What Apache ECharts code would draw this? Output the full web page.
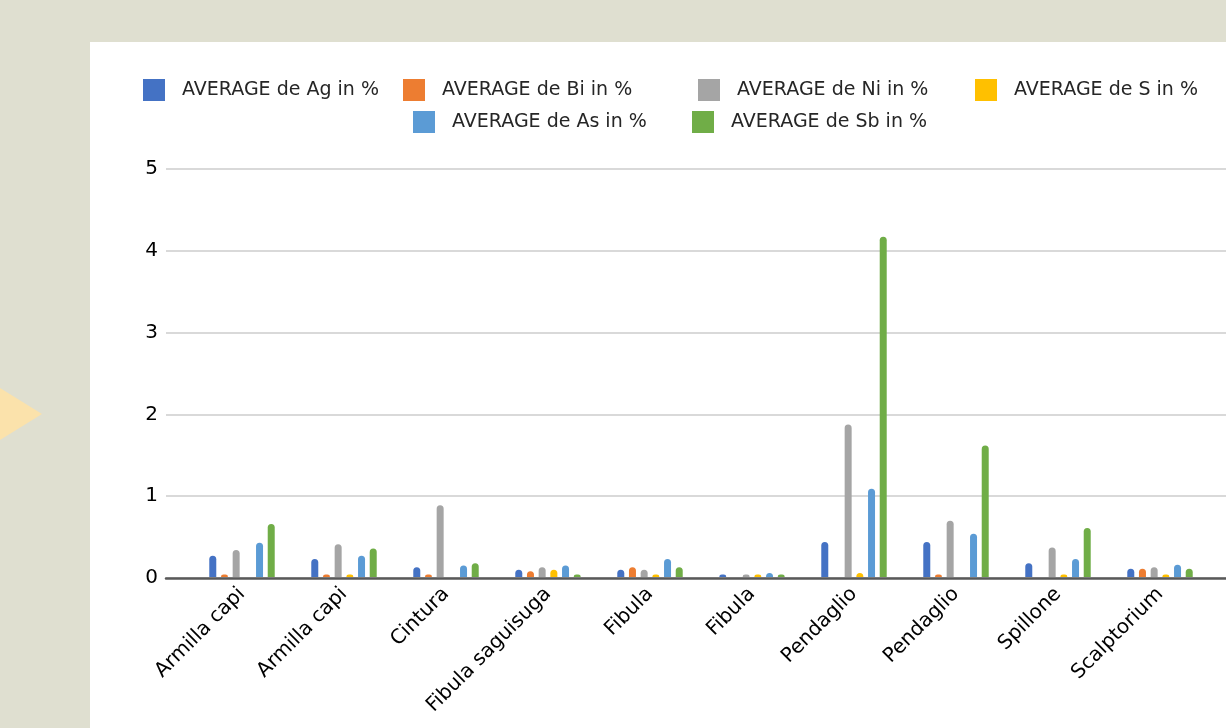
<!DOCTYPE html>
<html>
<head>
<meta charset="utf-8">
<script src="https://cdn.jsdelivr.net/npm/echarts@6/dist/echarts.min.js"></script>
<style>
html,body{margin:0;padding:0;width:1226px;height:728px;overflow:hidden;background:#dfdfd0;}
#panel{position:absolute;left:90px;top:42px;width:1136px;height:686px;background:#ffffff;}
#tri{position:absolute;left:0;top:388px;width:0;height:0;border-top:26px solid transparent;border-bottom:26px solid transparent;border-left:42px solid #fbe2ab;}
#chart{position:absolute;left:0;top:0;width:1226px;height:728px;}
</style>
</head>
<body>
<div id="panel"></div>
<div id="tri"></div>
<div id="chart"></div>
<script>
const categories = ['Armilla capi','Armilla capi','Cintura','Fibula saguisuga','Fibula','Fibula','Pendaglio','Pendaglio','Spillone','Scalptorium'];
const seriesNames = ['AVERAGE de Ag in %','AVERAGE de Bi in %','AVERAGE de Ni in %','AVERAGE de S in %','AVERAGE de As in %','AVERAGE de Sb in %'];
const ag = [0.26,0.22,0.12,0.09,0.09,0.03,0.43,0.43,0.17,0.10];
const bi = [0.03,0.03,0.03,0.07,0.12,0,0,0.03,0,0.10];
const ni = [0.33,0.40,0.88,0.12,0.09,0.03,1.87,0.69,0.36,0.12];
const s  = [0,0.03,0,0.09,0.03,0.03,0.05,0,0.03,0.03];
const as = [0.42,0.26,0.14,0.14,0.22,0.05,1.08,0.53,0.22,0.15];
const sb = [0.65,0.35,0.17,0.03,0.12,0.03,4.17,1.61,0.60,0.10];
const yTicks = [0,1,2,3,4,5];
const colors = ['#4472C4','#ED7D31','#A5A5A5','#FFC000','#5B9BD5','#70AD47'];
const values = [ag,bi,ni,s,as,sb];

const FONT = 'DejaVu Sans';
const chart = echarts.init(document.getElementById('chart'));

const legendPos = [[138,74],[398,74],[693,74],[970,74],[408,106],[687,106]];
const legends = seriesNames.map((n,i)=>({
  data:[n], left:legendPos[i][0], top:legendPos[i][1],
  itemWidth:22, itemHeight:22, icon:'rect',
  textStyle:{fontFamily:FONT, fontSize:19, color:'#262626', padding:[0,0,0,12]}
}));

chart.setOption({
  animation:false,
  color:colors,
  legend:legends,
  grid:[
    {left:166, right:0, top:169, bottom:150},
    {left:191, width:1020, top:169, bottom:151}
  ],
  xAxis:[
    {gridIndex:0, type:'value', min:0, max:1, axisLine:{show:true, onZero:false, lineStyle:{color:'#595959', width:2.5}}, axisTick:{show:false}, axisLabel:{show:false}, splitLine:{show:false}},
    {gridIndex:1, type:'category', data:categories, axisLine:{show:false}, axisTick:{show:false},
     axisLabel:{interval:0, rotate:45, margin:14, fontFamily:FONT, fontSize:20, color:'#000000'}}
  ],
  yAxis:[
    {gridIndex:0, type:'value', min:0, max:5, interval:1, axisLine:{show:false}, axisTick:{show:false},
     axisLabel:{margin:8, fontFamily:FONT, fontSize:20, color:'#000000', formatter:v=>yTicks.includes(v)?String(v):''},
     splitLine:{lineStyle:{color:'#d9d9d9', width:2}}},
    {gridIndex:1, type:'value', min:0, max:5, interval:1, show:false, splitLine:{show:false}}
  ],
  series: values.map((d,i)=>({
    name:seriesNames[i], type:'bar', xAxisIndex:1, yAxisIndex:1, data:d,
    barWidth:7, barGap:'67%',
    itemStyle:{color:colors[i], borderRadius:[3.5,3.5,0,0]}
  }))
});
</script>
</body>
</html>
